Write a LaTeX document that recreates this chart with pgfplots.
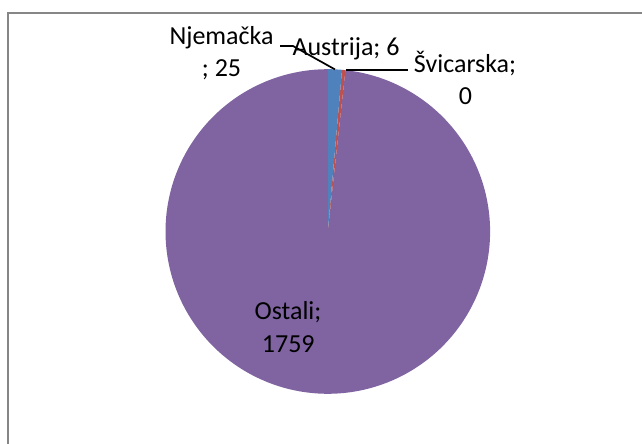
\documentclass[border=0pt]{standalone}
\usepackage{fontspec}
\setmainfont{Carlito}
\usepackage{pgfplots}
\pgfplotsset{compat=1.18}
\definecolor{cN}{HTML}{4F81BD}
\definecolor{cA}{HTML}{C0504D}
\definecolor{cS}{HTML}{9BBB59}
\definecolor{cO}{HTML}{8064A2}
\definecolor{frame}{HTML}{868686}
\begin{document}
\begin{tikzpicture}[every node/.style={font=\fontsize{26}{31}\selectfont, inner sep=0pt}]
\def\vN{25}\def\vA{6}\def\vS{0}\def\vO{1759}
\pgfmathsetmacro{\tot}{\vN+\vA+\vS+\vO}
\pgfmathsetmacro{\aN}{90-360*\vN/\tot}
\pgfmathsetmacro{\aA}{\aN-360*\vA/\tot}
\pgfmathsetmacro{\aS}{\aA-360*\vS/\tot}
\def\cx{327.8}\def\cy{212.5}\def\r{162.3}
\path (0,0) rectangle (642pt,444pt);
\begin{axis}[x=1pt,y=1pt,xmin=0,xmax=642,ymin=0,ymax=444,hide axis,scale only axis,
  at={(0,0)},anchor=south west,clip=true]
% frame
\addplot[frame,line width=2pt,forget plot] coordinates {(8,0) (8,431) (642,431)};
% slices
\addplot[draw=none,fill=cO,domain=-270:\aS,samples=300,variable=\t]
  ({\cx+\r*cos(\t)},{\cy+\r*sin(\t)}) -- (axis cs:\cx,\cy) -- cycle;
\addplot[draw=none,fill=cA,domain=\aA:\aN,samples=10,variable=\t]
  ({\cx+\r*cos(\t)},{\cy+\r*sin(\t)}) -- (axis cs:\cx,\cy) -- cycle;
\addplot[draw=none,fill=cN,domain=\aN:90,samples=20,variable=\t]
  ({\cx+\r*cos(\t)},{\cy+\r*sin(\t)}) -- (axis cs:\cx,\cy) -- cycle;
% leader lines
\addplot[black,line width=1.7pt] coordinates {(280,398) (293,398) (334.9,374.6)};
\addplot[black,line width=1.7pt] coordinates {(345.5,374.2) (408,374.2)};
% labels
\node[anchor=base,font=\fontsize{26}{31}\selectfont] at (axis cs:221.5,399) {Njemačka};
\node[anchor=base,font=\fontsize{26}{31}\selectfont] at (axis cs:221.5,367) {; 25};
\node[anchor=base,font=\fontsize{26}{31}\selectfont] at (axis cs:346,388) {Austrija; 6};
\node[anchor=base,font=\fontsize{26}{31}\selectfont] at (axis cs:465,371.3) {Švicarska;};
\node[anchor=base,font=\fontsize{26}{31}\selectfont] at (axis cs:465.5,339) {0};
\node[anchor=base,font=\fontsize{26}{31}\selectfont] at (axis cs:288,124) {Ostali;};
\node[anchor=base,font=\fontsize{26}{31}\selectfont] at (axis cs:288.3,91.3) {1759};
\end{axis}
\end{tikzpicture}
\end{document}
